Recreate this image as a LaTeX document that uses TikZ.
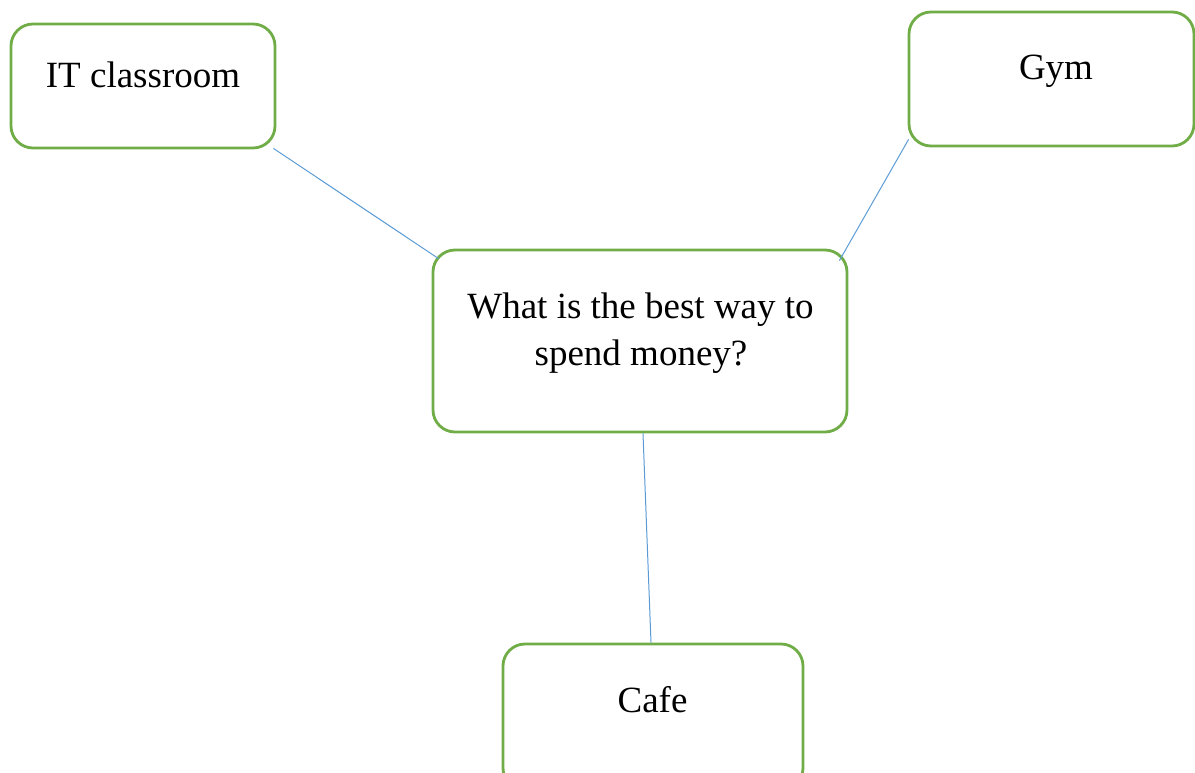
\documentclass[tikz,border=0pt]{standalone}
\usepackage{fontspec}
\setmainfont{Liberation Serif}
\definecolor{boxgreen}{HTML}{70AD47}
\definecolor{linkblue}{HTML}{5B9BD5}
\begin{document}
\begin{tikzpicture}[x=1pt,y=-1pt,
  topic/.style={draw=boxgreen, line width=2.8pt, rounded corners=22pt,
    rectangle, inner sep=0pt, fill=white},
  label/.style={font=\fontsize{37}{47}\selectfont, anchor=base, inner sep=0pt},
  link/.style={draw=linkblue, line width=1pt}]
\useasboundingbox (0,0) rectangle (1195,773);

% boxes
\node[topic, minimum width=264pt, minimum height=124pt] (it) at (143,86) {};
\node[topic, minimum width=285pt, minimum height=134pt] (gym) at (1051.5,79) {};
\node[topic, minimum width=414pt, minimum height=182pt] (mid) at (640,341) {};
\node[topic, minimum width=300pt, minimum height=146pt] (cafe) at (653,717) {};

% texts
\node[label] (itt) at (143,88) {IT classroom};
\node[label] (gymt) at (1056,80) {Gym};
\node[label] (midt1) at (640.5,318) {What is the best way to};
\node[label] (midt2) at (641,365) {spend money?};
\node[label] (cafet) at (652.5,712) {Cafe};

% connectors
\draw[link] ([xshift=-3pt,yshift=1pt]it.south east) -- ([xshift=7pt,yshift=-10pt]mid.north west);
\draw[link] ([xshift=1pt,yshift=8pt]gym.south west) -- ([xshift=-9pt,yshift=-12pt]mid.north east);
\draw[link] ([xshift=3pt]mid.south) -- ([xshift=-2pt]cafe.north);
\end{tikzpicture}
\end{document}
